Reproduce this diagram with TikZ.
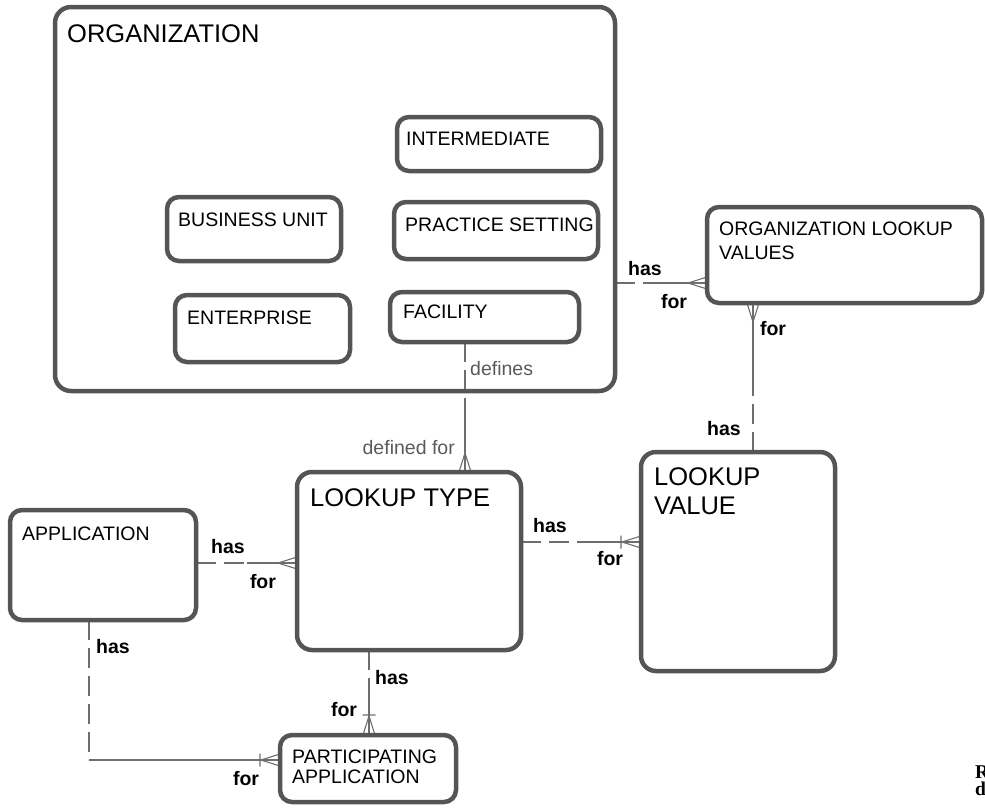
\documentclass[tikz,border=0pt]{standalone}
\usepackage{fontspec}
\setmainfont{Liberation Sans}
\newfontfamily\capserif{Liberation Serif}
\usetikzlibrary{backgrounds}
\definecolor{boxgray}{HTML}{555555}
\definecolor{linegray}{HTML}{6E6E6E}
\definecolor{lblgray}{HTML}{5A5A5A}
\begin{document}
\begin{tikzpicture}[x=1pt,y=-1pt,
  ent/.style={draw=boxgray, line width=4.5pt, rounded corners=12pt, inner sep=0pt, outer sep=0pt, anchor=north west},
  big/.style={font=\fontsize{25.5}{29}\selectfont, anchor=base west, inner sep=0pt},
  small/.style={font=\fontsize{19.5}{22}\selectfont, anchor=base west, inner sep=0pt},
  lbl/.style={font=\fontsize{19.5}{22}\selectfont\bfseries, anchor=base, inner sep=0pt},
  rolelbl/.style={font=\fontsize{19.5}{22}\selectfont, text=lblgray, inner sep=0pt},
  conn/.style={draw=linegray, line width=1.1pt},
  opt/.style={conn, dash pattern=on 20pt off 8pt},
  crow/.pic={\draw[conn] (-19,0) -- (0,6) (-19,0) -- (0,-6);},
  crowbar/.pic={\draw[conn] (-19,0) -- (0,6) (-19,0) -- (0,-6) (-20,-6.5) -- (-20,6.5);}
]
\useasboundingbox (0,0) rectangle (985,807);

% entity boxes
\node[ent, minimum width=560pt, minimum height=384pt, rounded corners=16pt] (org) at (55,7) {};
\node[ent, minimum width=204pt, minimum height=54pt] (int) at (397,117) {};
\node[ent, minimum width=174pt, minimum height=64pt] (bu) at (167,197) {};
\node[ent, minimum width=204pt, minimum height=57pt] (ps) at (394,202) {};
\node[ent, minimum width=175pt, minimum height=67pt] (ent) at (175,295) {};
\node[ent, minimum width=189pt, minimum height=50pt] (fac) at (390,292) {};
\node[ent, minimum width=275pt, minimum height=96pt] (olv) at (707,207) {};
\node[ent, minimum width=194pt, minimum height=219pt, rounded corners=15pt] (lv) at (641,452) {};
\node[ent, minimum width=224pt, minimum height=178pt, rounded corners=15pt] (lt) at (297,472) {};
\node[ent, minimum width=186pt, minimum height=110pt] (app) at (10,510) {};
\node[ent, minimum width=176pt, minimum height=67pt] (pa) at (280,735) {};

% entity names
\node[big] (torg) at (67,42) {ORGANIZATION};
\node[small] (tint) at (406,145) {INTERMEDIATE};
\node[small] (tbu) at (178,226) {BUSINESS UNIT};
\node[small] (tps) at (405,231) {PRACTICE SETTING};
\node[small] (tent) at (187,324) {ENTERPRISE};
\node[small] (tfac) at (403,318) {FACILITY};
\node[small] (tolva) at (719,235) {ORGANIZATION LOOKUP};
\node[small] (tolvb) at (719,259) {VALUES};
\node[big] (tlt) at (310,506) {LOOKUP TYPE};
\node[big] (tlva) at (654,485) {LOOKUP};
\node[big] (tlvb) at (654,514) {VALUE};
\node[small] (tapp) at (22,540) {APPLICATION};
\node[small] (tpaa) at (292,763) {PARTICIPATING};
\node[small] (tpab) at (292,783) {APPLICATION};

% split points of the relationship lines
\coordinate (m1) at (661,283);
\coordinate (m2) at (753,377.5);
\coordinate (m3) at (465,407);
\coordinate (m4) at (581,542);
\coordinate (m5) at (246.5,563);
\coordinate (m6) at (369,692.5);
\coordinate (m7) at (89,760);

\begin{pgfonlayer}{background}
% ORGANIZATION -- ORGANIZATION LOOKUP VALUES
\draw[opt] (org.east |- m1) -- (m1);
\draw[conn] (m1) -- (olv.west |- m1);
\pic at (olv.west |- m1) {crow};
% ORGANIZATION LOOKUP VALUES -- LOOKUP VALUE
\draw[conn] (olv.south -| m2) -- (m2);
\draw[opt] (lv.north -| m2) -- (m2);
\pic[rotate=90] at (olv.south -| m2) {crow};
% FACILITY -- LOOKUP TYPE
\draw[opt] (fac.south -| m3) -- (m3);
\draw[conn] (m3) -- (lt.north -| m3);
\pic[rotate=-90] at (lt.north -| m3) {crow};
% LOOKUP TYPE -- LOOKUP VALUE
\draw[opt] (lt.east |- m4) -- (m4);
\draw[conn] (m4) -- (lv.west |- m4);
\pic at (lv.west |- m4) {crowbar};
% APPLICATION -- LOOKUP TYPE
\draw[opt] (app.east |- m5) -- (m5);
\draw[conn] (m5) -- (lt.west |- m5);
\pic at (lt.west |- m5) {crow};
% LOOKUP TYPE -- PARTICIPATING APPLICATION
\draw[opt] (lt.south -| m6) -- (m6);
\draw[conn] (m6) -- (pa.north -| m6);
\pic[rotate=-90] at (pa.north -| m6) {crowbar};
% APPLICATION -- PARTICIPATING APPLICATION
\draw[opt] (app.south -| m7) -- (m7);
\draw[conn] (m7) -- (pa.west |- m7);
\pic at (pa.west |- m7) {crowbar};
\end{pgfonlayer}

% relationship labels
\node[lbl] (l1a) at (645,275) {has};
\node[lbl] (l1b) at (674,308) {for};
\node[lbl] (l2a) at (773,335) {for};
\node[lbl] (l2b) at (724,435) {has};
\node[rolelbl, anchor=base west] (l3a) at (470,375) {defines};
\node[rolelbl, anchor=base east] (l3b) at (455,454) {defined for};
\node[lbl] (l4a) at (550,532) {has};
\node[lbl] (l4b) at (610,565) {for};
\node[lbl] (l5a) at (228,553) {has};
\node[lbl] (l5b) at (263,588) {for};
\node[lbl] (l6a) at (392,684) {has};
\node[lbl] (l6b) at (344,716) {for};
\node[lbl] (l7a) at (113,653) {has};
\node[lbl] (l7b) at (246,785) {for};

% cut-off caption at the right edge
\node[font=\capserif\bfseries\fontsize{19.5}{22}\selectfont, anchor=base west, inner sep=0pt] (capa) at (975,778) {R};
\node[font=\capserif\bfseries\fontsize{19.5}{22}\selectfont, anchor=base west, inner sep=0pt] (capb) at (975,795) {d};
\end{tikzpicture}
\end{document}
